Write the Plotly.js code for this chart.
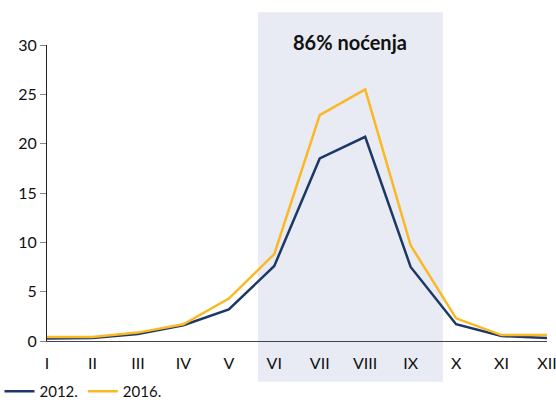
<!DOCTYPE html>
<html>
<head>
<meta charset="utf-8">
<script src="https://cdn.plot.ly/plotly-3.0.1.min.js"></script>
<style>html,body{margin:0;padding:0;background:#fff;}</style>
</head>
<body>
<div id="chart" style="width:556px;height:400px;"></div>
<script>
const months = ["I","II","III","IV","V","VI","VII","VIII","IX","X","XI","XII"];
const y2012 = [0.25, 0.3, 0.7, 1.6, 3.2, 7.6, 18.5, 20.7, 7.5, 1.7, 0.5, 0.3];
const y2016 = [0.4, 0.4, 0.85, 1.7, 4.3, 8.8, 22.9, 25.5, 9.7, 2.3, 0.6, 0.6];
const yTicks = [0, 5, 10, 15, 20, 25, 30];
const seriesNames = ["2012.", "2016."];
const annotationText = "86% noćenja";

const xIdx = months.map((m, i) => i);

const traces = [
  {x: xIdx, y: y2012, name: seriesNames[0], type: "scatter", mode: "lines",
   line: {color: "#1c3866", width: 2.5}},
  {x: xIdx, y: y2016, name: seriesNames[1], type: "scatter", mode: "lines",
   line: {color: "#fbb825", width: 2.5}}
];

const layout = {
  width: 556, height: 400,
  margin: {l: 47, r: 9, t: 45, b: 59, autoexpand: false},
  paper_bgcolor: "#fff", plot_bgcolor: "rgba(0,0,0,0)",
  font: {family: "Lato, 'Open Sans', sans-serif", size: 16, color: "#111"},
  showlegend: true,
  legend: {orientation: "h", x: -0.095, xanchor: "left", y: -0.115, yanchor: "top",
           font: {size: 15, color: "#111"}, itemwidth: 30, tracegroupgap: 0,
           bgcolor: "rgba(0,0,0,0)"},
  xaxis: {range: [0, 11], tickvals: xIdx, ticktext: months, showgrid: false,
          zeroline: false, showline: true, linecolor: "#444", linewidth: 1.2,
          ticks: "outside", ticklen: 8, tickcolor: "rgba(0,0,0,0)", tickfont: {size: 16},
          ticklabeloverflow: "allow", fixedrange: true},
  yaxis: {range: [0, 30], tickvals: yTicks, showgrid: false, zeroline: false,
          showline: true, linecolor: "#222", linewidth: 1, ticks: "outside",
          ticklen: 6, tickcolor: "#888", tickfont: {size: 16}, fixedrange: true},
  shapes: [{type: "rect", xref: "x", yref: "paper", x0: 4.64, x1: 8.71,
            y0: -0.138, y1: 1.111, fillcolor: "#e8ebf3", line: {width: 0}, layer: "below"}],
  annotations: [{x: 6.67, xref: "x", y: 1.01, yref: "paper", text: "<b>" + annotationText + "</b>",
                 showarrow: false, font: {size: 20, color: "#111"}, xanchor: "center", yanchor: "middle"}]
};

Plotly.newPlot("chart", traces, layout, {displayModeBar: false, staticPlot: true});
</script>
</body>
</html>
